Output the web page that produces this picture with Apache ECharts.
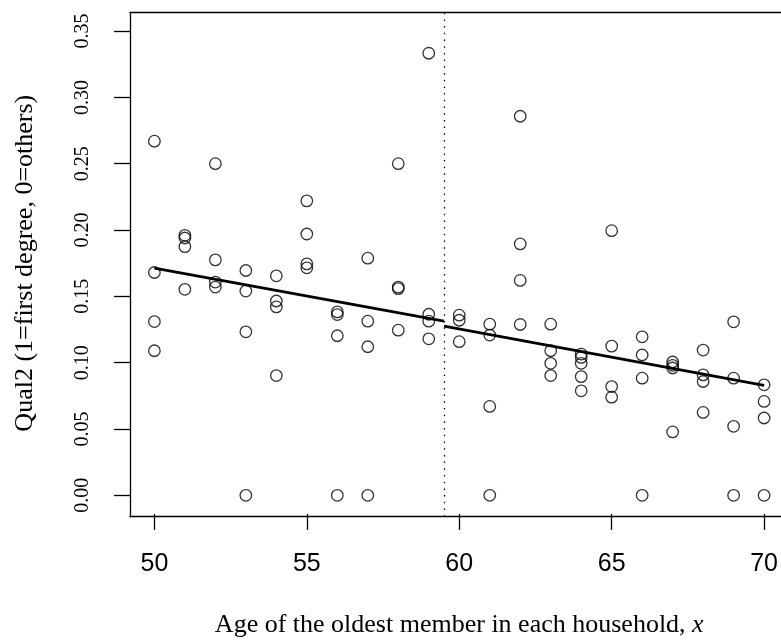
<!DOCTYPE html>
<html>
<head>
<meta charset="utf-8">
<script src="https://cdn.jsdelivr.net/npm/echarts@6/dist/echarts.min.js"></script>
<style>
  html, body { margin: 0; padding: 0; background: #fff; }
  #chart { width: 781px; height: 643px; }
</style>
</head>
<body>
<div id="chart"></div>
<script>
// ---- data ----
const ages = [
  50,50,50,50,
  51,51,51,51,
  52,52,52,52,
  53,53,53,53,
  54,54,54,54,
  55,55,55,55,
  56,56,56,56,
  57,57,57,57,
  58,58,58,58,
  59,59,59,59,
  60,60,60,
  61,61,61,61,
  62,62,62,62,
  63,63,63,63,
  64,64,64,64,64,
  65,65,65,65,
  66,66,66,66,
  67,67,67,67,
  68,68,68,68,
  69,69,69,69,
  70,70,70,70
];
const qual2 = [
  0.267, 0.168, 0.131, 0.109,
  0.196, 0.194, 0.1875, 0.1553,
  0.250, 0.1775, 0.1608, 0.157,
  0.1695, 0.154, 0.1233, 0,
  0.1655, 0.1465, 0.142, 0.0903,
  0.222, 0.197, 0.1745, 0.1715,
  0.1383, 0.1363, 0.1203, 0,
  0.1788, 0.1313, 0.112, 0,
  0.250, 0.157, 0.1558, 0.1245,
  0.3333, 0.1365, 0.1313, 0.118,
  0.1358, 0.132, 0.1158,
  0.129, 0.1208, 0.067, 0,
  0.2858, 0.1895, 0.162, 0.1288,
  0.129, 0.109, 0.0995, 0.0903,
  0.1065, 0.104, 0.0995, 0.0895, 0.0788,
  0.1995, 0.1125, 0.082, 0.074,
  0.1195, 0.1058, 0.0883, 0,
  0.1005, 0.098, 0.096, 0.0478,
  0.1095, 0.0908, 0.0858, 0.0625,
  0.1308, 0.0883, 0.052, 0,
  0.0833, 0.0708, 0.0583, 0
];
// fitted lines on each side of the cutoff
const fitLeftX = [50, 59.5];
const fitLeftY = [0.1713, 0.1313];
const fitRightX = [59.5, 70];
const fitRightY = [0.1275, 0.0828];
const cutoff = 59.5;
const xTicks = { min: 50, max: 70, step: 5 };
const yTicks = { min: 0, max: 0.35, step: 0.05 };
const xTitle = 'Age of the oldest member in each household, {i|x}';
const yTitle = 'Qual2 (1=first degree, 0=others)';

// ---- layout (R-style plot box with 4% padding; box runs past the right edge) ----
const W = 781;
const BOX = { left: 130, top: 12.4, fullWidth: 658.7, height: 504.3 };
const padX = 0.04 * (xTicks.max - xTicks.min);
const padY = 0.04 * (yTicks.max - yTicks.min);
const pxPerX = BOX.fullWidth / (xTicks.max - xTicks.min + 2 * padX);
const pxPerY = BOX.height / (yTicks.max - yTicks.min + 2 * padY);
const inner = {
  left: BOX.left + padX * pxPerX,
  top: BOX.top + padY * pxPerY,
  width: (xTicks.max - xTicks.min) * pxPerX,
  height: (yTicks.max - yTicks.min) * pxPerY
};
const visWidth = W - BOX.left;                 // visible part of the box
const boxXMin = xTicks.min - padX;
const boxXMax = boxXMin + visWidth / pxPerX;   // x value at the canvas right edge
const offX = padY * pxPerY;  // x-axis pushed down to box edge
const offY = padX * pxPerX;  // y-axis pushed left to box edge

const serif = 'Liberation Serif, Times New Roman, serif';
const sans = 'Liberation Sans, Arial, Helvetica, sans-serif';
const LW = 1.3;
const boxLine = { show: true, onZero: false, lineStyle: { color: '#000', width: LW } };
const hidden = { axisTick: { show: false }, axisLabel: { show: false }, splitLine: { show: false } };

const chart = echarts.init(document.getElementById('chart'), null, { renderer: 'canvas' });
chart.setOption({
  animation: false,
  backgroundColor: '#ffffff',
  grid: [
    { left: inner.left, top: inner.top, width: inner.width, height: inner.height, show: false },
    { left: BOX.left, top: BOX.top, width: visWidth, height: BOX.height, show: false }
  ],
  xAxis: [
    {
      gridIndex: 0, type: 'value', min: xTicks.min, max: xTicks.max, interval: xTicks.step,
      offset: offX,
      axisLine: { show: false, onZero: false },
      axisTick: { show: true, inside: false, length: 16, lineStyle: { color: '#000', width: LW } },
      axisLabel: { color: '#000', fontFamily: sans, fontSize: 25, margin: 38 },
      splitLine: { show: false },
      name: xTitle, nameLocation: 'middle', nameGap: 98,
      nameTextStyle: { color: '#000', fontFamily: serif, fontSize: 26,
        rich: { i: { fontFamily: serif, fontSize: 26, fontStyle: 'italic', color: '#000' } } }
    },
    Object.assign({ gridIndex: 1, type: 'value', position: 'bottom', min: boxXMin, max: boxXMax,
      axisLine: boxLine }, hidden),
    Object.assign({ gridIndex: 1, type: 'value', position: 'top', min: boxXMin, max: boxXMax,
      axisLine: boxLine }, hidden)
  ],
  yAxis: [
    {
      gridIndex: 0, type: 'value', min: yTicks.min, max: yTicks.max, interval: yTicks.step,
      offset: offY,
      axisLine: { show: false, onZero: false },
      axisTick: { show: true, inside: false, length: 16, lineStyle: { color: '#000', width: LW } },
      axisLabel: { color: '#000', fontFamily: serif, fontSize: 20, rotate: 90, margin: 37,
        formatter: v => v.toFixed(2) },
      splitLine: { show: false },
      name: yTitle, nameLocation: 'middle', nameGap: 92, nameRotate: 90,
      nameTextStyle: { color: '#000', fontFamily: serif, fontSize: 26 }
    },
    Object.assign({ gridIndex: 1, type: 'value', position: 'left',
      min: yTicks.min - padY, max: yTicks.max + padY, axisLine: boxLine }, hidden)
  ],
  series: [
    {
      type: 'scatter', xAxisIndex: 0, yAxisIndex: 0, clip: false,
      symbol: 'circle', symbolSize: 11.5,
      itemStyle: { color: 'transparent', borderColor: '#000', borderWidth: LW },
      data: ages.map((a, i) => [a, qual2[i]]),
      z: 3
    },
    {
      type: 'line', xAxisIndex: 0, yAxisIndex: 0, symbol: 'none', clip: false,
      lineStyle: { color: '#000', width: 2.8 },
      data: fitLeftX.map((x, i) => [x, fitLeftY[i]]), z: 4
    },
    {
      type: 'line', xAxisIndex: 0, yAxisIndex: 0, symbol: 'none', clip: false,
      lineStyle: { color: '#000', width: 2.8 },
      data: fitRightX.map((x, i) => [x, fitRightY[i]]), z: 4
    },
    {
      type: 'scatter', xAxisIndex: 1, yAxisIndex: 1, data: [], silent: true,
      markLine: {
        silent: true, symbol: ['none', 'none'], label: { show: false },
        lineStyle: { color: '#000', width: 1.3, type: [1.5, 5.2] },
        emphasis: { disabled: true },
        data: [{ xAxis: cutoff }]
      }
    }
  ]
});
</script>
</body>
</html>
